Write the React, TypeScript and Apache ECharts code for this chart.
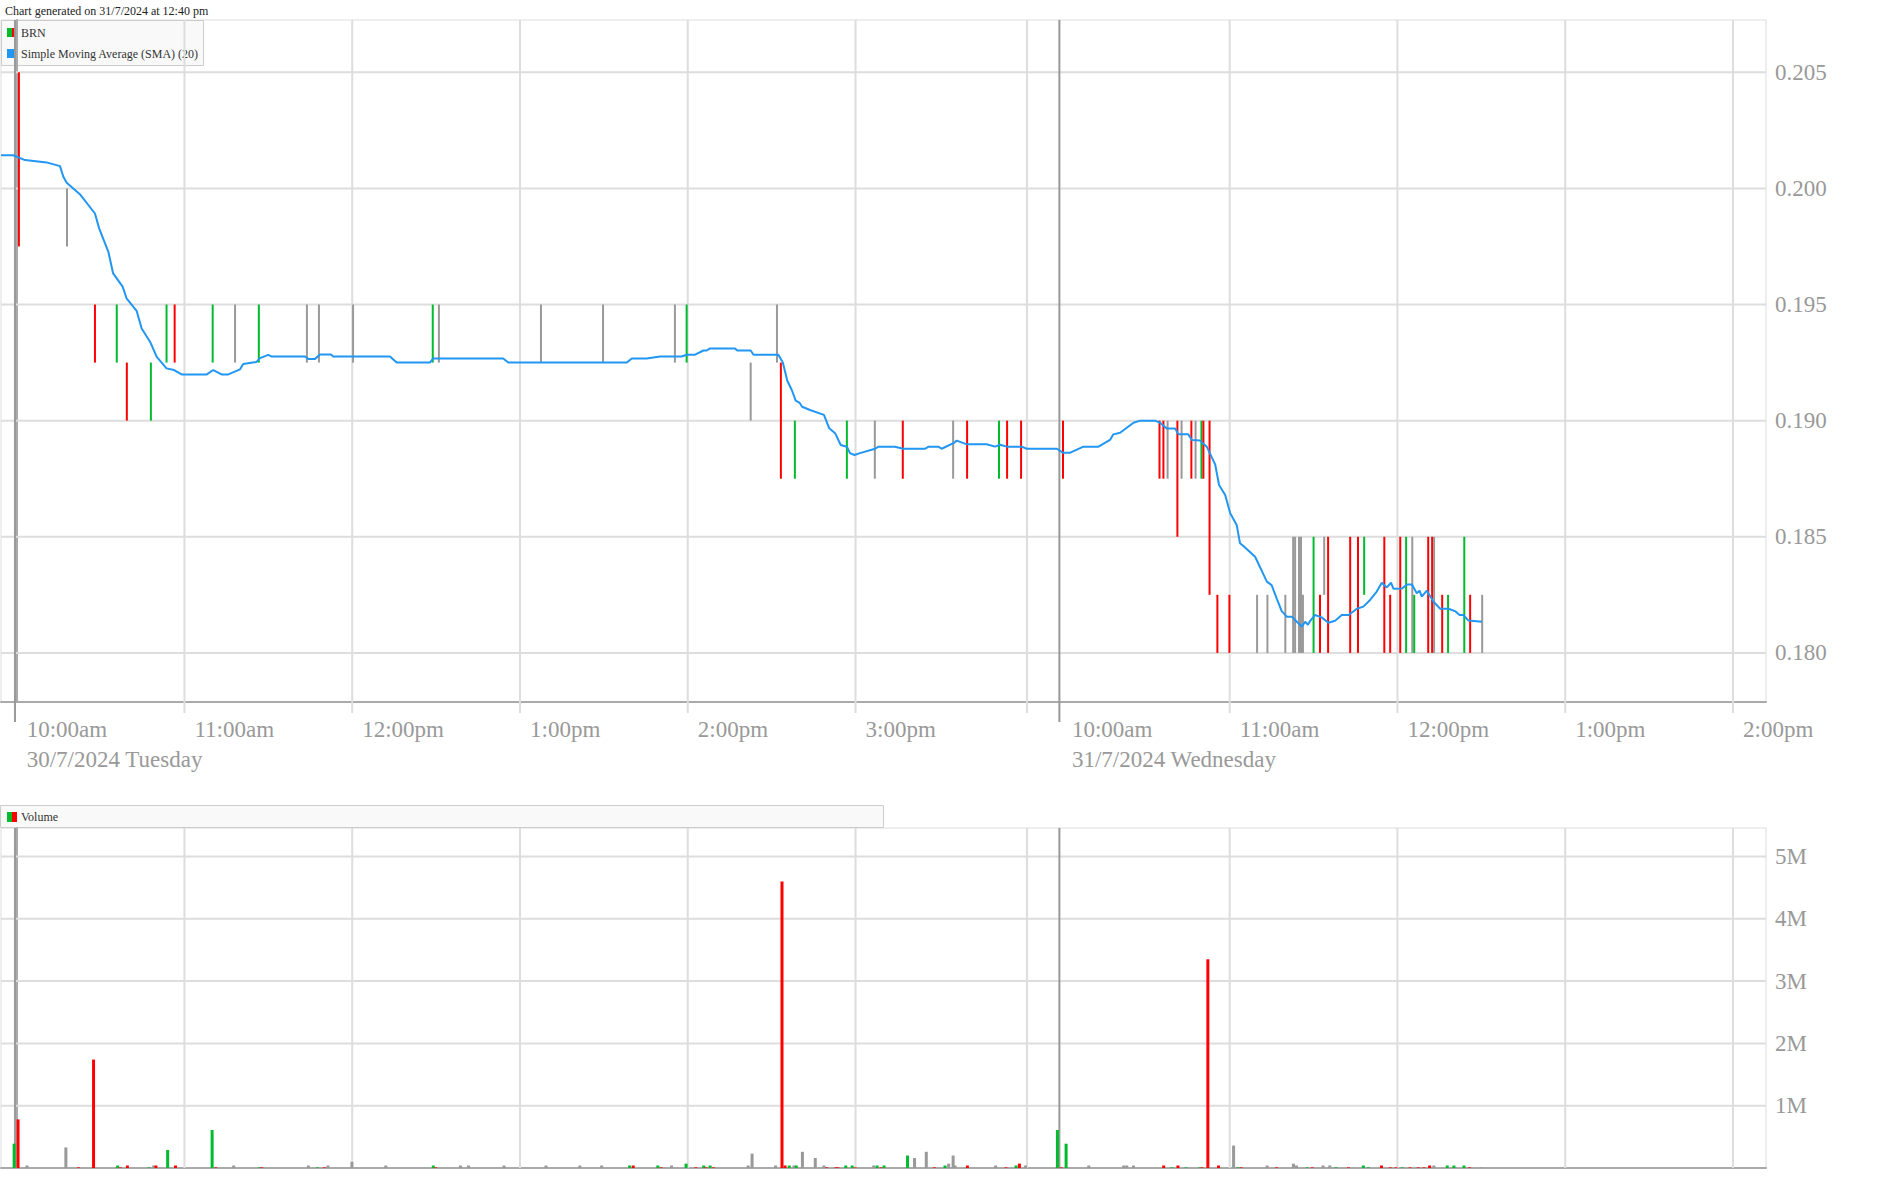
import React, { useEffect, useRef } from "react";
import * as echarts from "echarts";

// ---------- texts ----------
const TITLE = "Chart generated on 31/7/2024 at 12:40 pm";
const PRICE_NAME = "BRN";
const SMA_NAME = "Simple Moving Average (SMA) (20)";
const VOLUME_NAME = "Volume";

// ---------- trading-time axis (minutes after 10:00am Tuesday; Wednesday session starts at WED_START) ----------
const WED_START = 373.8;
const X_MIN = -5.6;
const X_MAX = 625.6;

const tueTickMinutes = [0, 60, 120, 180, 240, 300];
const tueTickLabels = ["10:00am", "11:00am", "12:00pm", "1:00pm", "2:00pm", "3:00pm"];
const tueUnlabeledGrid = [361.3];
const wedTickMinutes = [0, 60, 120, 180, 240];
const wedTickLabels = ["10:00am", "11:00am", "12:00pm", "1:00pm", "2:00pm"];
const dayLabels = ["30/7/2024 Tuesday", "31/7/2024 Wednesday"];
const sessionOpenMinutes = [-0.6, WED_START - 0.9];

const priceTicks = [0.18, 0.185, 0.19, 0.195, 0.2, 0.205];
const PRICE_MIN = 0.177885;
const PRICE_MAX = 0.207252;
const volumeTicks = [1000000, 2000000, 3000000, 4000000, 5000000];
const VOLUME_MAX = 5457000;

// ---------- price bars: [minute of day, high, low, direction (1 up, -1 down, 0 unchanged)] ----------
const tueBars = [
  [0.8, 0.205, 0.1975, -1], [18.0, 0.2, 0.1975, 0], [28.0, 0.195, 0.1925, -1], [35.8, 0.195, 0.1925, 1],
  [39.4, 0.1925, 0.19, -1], [48.0, 0.1925, 0.19, 1], [53.6, 0.195, 0.1925, 1], [56.5, 0.195, 0.1925, -1],
  [70.1, 0.195, 0.1925, 1], [78.1, 0.195, 0.1925, 0], [86.6, 0.195, 0.1925, 1], [103.8, 0.195, 0.1925, 0],
  [108.1, 0.195, 0.1925, 0], [120.3, 0.195, 0.1925, 0], [148.8, 0.195, 0.1925, 1], [151.0, 0.195, 0.1925, 0],
  [187.5, 0.195, 0.1925, 0], [209.7, 0.195, 0.1925, 0], [235.4, 0.195, 0.1925, 0], [239.6, 0.195, 0.1925, 1],
  [262.5, 0.1925, 0.19, 0], [271.9, 0.195, 0.1925, 0], [273.3, 0.1925, 0.1875, -1], [278.3, 0.19, 0.1875, 1],
  [296.9, 0.19, 0.1875, 1], [306.9, 0.19, 0.1875, 0], [316.9, 0.19, 0.1875, -1], [334.9, 0.19, 0.1875, 0],
  [339.9, 0.19, 0.1875, -1], [351.3, 0.19, 0.1875, 1], [354.2, 0.19, 0.1875, -1], [359.2, 0.19, 0.1875, -1],
];
const wedBars = [
  [0.4, 0.19, 0.1875, -1], [34.9, 0.19, 0.1875, -1], [36.3, 0.19, 0.1875, -1], [37.8, 0.19, 0.1875, 0],
  [41.3, 0.19, 0.185, -1], [42.8, 0.19, 0.1875, 0], [46.3, 0.19, 0.1875, -1], [47.8, 0.19, 0.1875, 0],
  [49.9, 0.19, 0.1875, 1], [50.6, 0.19, 0.1875, -1], [52.8, 0.19, 0.1825, -1], [55.6, 0.1825, 0.18, -1],
  [59.9, 0.1825, 0.18, -1], [69.8, 0.1825, 0.18, 0], [73.5, 0.1825, 0.18, 0], [79.9, 0.1825, 0.18, 0],
  [82.7, 0.185, 0.18, 0], [83.4, 0.185, 0.18, 0], [84.8, 0.185, 0.18, 0], [85.5, 0.185, 0.18, 0],
  [86.2, 0.1825, 0.18, 0], [90.0, 0.185, 0.18, 1], [92.3, 0.1825, 0.18, -1], [93.8, 0.185, 0.1825, 0],
  [95.2, 0.185, 0.18, -1], [103.1, 0.185, 0.18, -1], [105.9, 0.185, 0.18, -1], [108.1, 0.185, 0.1825, 1],
  [115.3, 0.185, 0.18, -1], [117.4, 0.1825, 0.18, -1], [121.0, 0.185, 0.18, -1], [123.1, 0.185, 0.18, 1],
  [125.3, 0.185, 0.18, 0], [126.0, 0.1825, 0.18, 1], [131.0, 0.185, 0.18, -1], [132.4, 0.185, 0.18, -1],
  [133.1, 0.185, 0.18, 0], [136.0, 0.1825, 0.18, -1], [138.1, 0.1825, 0.18, 1], [143.9, 0.185, 0.18, 1],
  [146.0, 0.1825, 0.18, -1], [150.3, 0.1825, 0.18, 0],
];

// ---------- SMA(20): [minute of day, value] ----------
const tueSma = [
  [-5.6, 0.20143], [-1.2, 0.20143], [3.0, 0.20122], [10.7, 0.20112], [15.5, 0.20096], [16.7, 0.2005], [17.9, 0.20024],
  [22.6, 0.19975], [28.0, 0.19892], [29.5, 0.19828], [32.8, 0.19727], [34.5, 0.19634], [37.9, 0.19577], [39.3, 0.19527],
  [42.9, 0.19473], [44.7, 0.19397], [47.7, 0.1934], [50.1, 0.19275], [53.6, 0.19225], [56.3, 0.19218], [59.0, 0.19199],
  [68.0, 0.19199], [70.3, 0.19218], [73.3, 0.19199], [75.7, 0.19199], [79.9, 0.19221], [81.0, 0.19244], [85.8, 0.19253],
  [87.0, 0.19269], [90.0, 0.19283], [91.2, 0.19276], [103.1, 0.19276], [104.3, 0.19266], [106.7, 0.19266], [108.5, 0.19285],
  [112.4, 0.19285], [113.2, 0.19276], [133.5, 0.19276], [135.9, 0.1925], [147.8, 0.1925], [149.0, 0.19268], [174.0, 0.19268],
  [175.8, 0.1925], [218.2, 0.1925], [220.0, 0.19268], [225.3, 0.19268], [230.1, 0.19276], [237.8, 0.19276], [239.6, 0.19284],
  [242.6, 0.19284], [245.6, 0.19302], [246.8, 0.19302], [248.0, 0.19311], [256.9, 0.19311], [257.7, 0.19302], [262.5, 0.19302],
  [263.5, 0.19284], [272.4, 0.19284], [274.0, 0.1925], [275.6, 0.19172], [277.2, 0.19132], [278.6, 0.19086], [279.9, 0.19078],
  [280.9, 0.1906], [283.7, 0.19046], [288.7, 0.19025], [290.6, 0.18967], [292.7, 0.18946], [294.7, 0.18895], [296.9, 0.18888],
  [298.0, 0.1886], [299.6, 0.18852], [301.6, 0.1886], [307.0, 0.18879], [308.2, 0.18888], [314.1, 0.18888], [317.1, 0.18879],
  [324.9, 0.18879], [326.1, 0.18888], [329.6, 0.18888], [330.8, 0.18879], [335.0, 0.18903], [336.2, 0.18914], [339.8, 0.18898],
  [346.9, 0.18898], [349.9, 0.18888], [351.7, 0.18896], [354.1, 0.18888], [359.4, 0.18888], [361.2, 0.18879], [372.0, 0.18879],
];
const wedSma = [
  [0.3, 0.18862], [3.0, 0.18862], [7.7, 0.18888], [13.1, 0.18888], [17.2, 0.18917], [18.4, 0.18941], [20.8, 0.18948],
  [22.6, 0.18964], [25.6, 0.18991], [28.0, 0.19], [33.3, 0.19], [35.1, 0.18991], [37.5, 0.18966], [40.5, 0.18966],
  [41.7, 0.18941], [45.2, 0.18941], [46.5, 0.18917], [49.4, 0.18914], [51.8, 0.18888], [54.8, 0.18812], [56.2, 0.18723],
  [58.4, 0.1868], [60.2, 0.18601], [62.5, 0.18551], [63.7, 0.18472], [64.9, 0.1846], [69.1, 0.18414], [73.3, 0.18307],
  [75.0, 0.18292], [76.8, 0.18235], [78.6, 0.1818], [80.4, 0.18156], [82.2, 0.18156], [84.0, 0.18134], [85.8, 0.18113],
  [87.0, 0.18134], [88.0, 0.18121], [88.8, 0.18138], [90.5, 0.18163], [92.9, 0.18153], [95.3, 0.1813], [97.7, 0.18138],
  [100.1, 0.18163], [102.5, 0.18163], [105.5, 0.1819], [107.8, 0.18199], [110.2, 0.18228], [112.6, 0.18264], [114.4, 0.18302],
  [116.2, 0.18282], [117.7, 0.18302], [118.6, 0.18276], [121.6, 0.18277], [123.4, 0.18294], [125.2, 0.18294], [126.9, 0.18257],
  [127.9, 0.18268], [128.7, 0.18242], [130.5, 0.18268], [132.9, 0.1822], [135.3, 0.1819], [138.2, 0.1819], [140.6, 0.1818],
  [142.2, 0.18163], [143.6, 0.18163], [145.4, 0.18139], [150.2, 0.18134],
];

// ---------- volume: [minute of day, shares, direction] ----------
const tueVolume = [
  [-0.9, 390000, 1], [0.5, 780000, -1], [3.7, 40000, 0], [17.6, 330000, 0], [22.1, 10000, -1], [27.5, 1740000, -1],
  [36.1, 40000, 1], [37.1, 10000, -1], [39.6, 40000, -1], [47.4, 10000, 1], [49.0, 40000, 0], [49.8, 40000, -1],
  [54.0, 290000, 1], [56.8, 40000, -1], [69.9, 610000, 1], [71.2, 10000, -1], [77.6, 40000, 0], [86.8, 10000, 1],
  [87.7, 10000, -1], [104.3, 40000, 0], [107.6, 10000, 1], [110.0, 10000, -1], [111.3, 40000, 0], [119.9, 100000, 0],
  [132.0, 40000, 0], [149.0, 40000, 1], [149.9, 10000, -1], [158.7, 40000, 0], [161.6, 40000, 0], [174.3, 40000, 0],
  [189.3, 40000, 0], [201.4, 40000, 0], [209.2, 40000, 0], [219.2, 40000, 1], [220.5, 40000, -1], [229.3, 40000, 1],
  [230.5, 10000, -1], [234.2, 40000, 0], [239.4, 70000, 1], [242.9, 10000, -1], [245.7, 40000, 1], [246.5, 10000, -1],
  [248.0, 40000, 1], [249.2, 10000, -1], [261.6, 40000, 0], [263.0, 230000, 0], [271.4, 40000, 0], [273.7, 4600000, -1],
  [274.8, 40000, -1], [276.3, 40000, 1], [278.0, 40000, 0], [278.8, 40000, 1], [281.0, 260000, 0], [285.6, 160000, 0],
  [288.7, 40000, 0], [289.7, 10000, -1], [293.0, 10000, -1], [293.7, 10000, -1], [296.5, 40000, 1], [298.8, 40000, 1],
  [299.9, 10000, -1], [306.5, 40000, 0], [307.7, 40000, 1], [309.1, 10000, -1], [310.2, 40000, 1], [318.6, 200000, 1],
  [321.1, 160000, 0], [325.3, 260000, 0], [328.2, 10000, -1], [332.0, 40000, 1], [333.3, 70000, 0], [334.9, 200000, 0],
  [335.6, 40000, 0], [340.0, 40000, -1], [350.1, 40000, 0], [353.8, 10000, -1], [357.4, 40000, 1], [358.6, 70000, -1],
  [360.8, 40000, 0],
];
const wedVolume = [
  [-1.6, 610000, 1], [-0.3, 10000, -1], [1.5, 390000, 1], [9.6, 40000, 0], [22.1, 40000, 0], [23.2, 40000, 0],
  [25.6, 40000, 0], [36.4, 40000, -1], [39.3, 10000, 1], [41.5, 40000, -1], [44.4, 10000, 1], [49.3, 10000, 1],
  [50.1, 10000, -1], [52.2, 3350000, -1], [56.0, 40000, -1], [61.4, 360000, 0], [62.9, 10000, 1], [64.1, 10000, -1],
  [73.4, 40000, 0], [76.8, 10000, -1], [82.8, 70000, 0], [83.9, 40000, 0], [87.7, 10000, 1], [89.5, 10000, -1],
  [93.4, 40000, 0], [95.8, 40000, 0], [98.0, 10000, 1], [102.5, 10000, -1], [107.8, 40000, 1], [109.6, 10000, 1],
  [114.3, 40000, -1], [117.4, 10000, -1], [119.5, 10000, -1], [121.7, 10000, 1], [124.5, 10000, -1], [127.4, 10000, -1],
  [129.5, 10000, -1], [131.5, 40000, -1], [133.0, 40000, 0], [137.8, 40000, 1], [140.2, 40000, 1], [143.8, 40000, 1],
  [145.8, 10000, -1], [149.8, 10000, 0],
];

// ---------- styles ----------
const UP = "#00bb2d";
const DOWN = "#ff0000";
const FLAT = "#999999";
const SMA_COLOR = "#2196f3";
const GRID_COLOR = "#dddddd";
const AXIS_COLOR = "#aaaaaa";
const LABEL_COLOR = "#999999";
const FONT = "'Liberation Serif', 'Times New Roman', serif";

const dirColor = (d: number) => (d > 0 ? UP : d < 0 ? DOWN : FLAT);
const wed = (rows: number[][]) => rows.map((r) => [r[0] + WED_START, ...r.slice(1)]);

const allLabelMinutes = [...tueTickMinutes, ...wedTickMinutes.map((m) => m + WED_START)];
const allLabels = [...tueTickLabels, ...wedTickLabels];
const dayLabelMinutes = [tueTickMinutes[0], wedTickMinutes[0] + WED_START];
const gridMinutes = [
  ...tueTickMinutes.slice(1),
  ...tueUnlabeledGrid,
  ...wedTickMinutes.slice(1).map((m) => m + WED_START),
];

const nearestLabel = (values: number[], labels: string[]) => (v: number) => {
  let best = -1;
  let bd = 1e9;
  values.forEach((m, i) => {
    const d = Math.abs(m - v);
    if (d < bd) {
      bd = d;
      best = i;
    }
  });
  return bd < 0.5 ? labels[best] : "";
};

function vLines(data: number[], idx: number, color: string, width: number, ext: number, z: number) {
  return {
    type: "custom",
    xAxisIndex: idx,
    yAxisIndex: idx,
    silent: true,
    z,
    clip: false,
    data: data.map((m) => [m, 0]),
    renderItem: (params: any, api: any) => {
      const cs = params.coordSys;
      const x = api.coord([api.value(0), api.value(1)])[0];
      return {
        type: "line",
        shape: { x1: x, y1: cs.y, x2: x, y2: cs.y + cs.height + ext },
        style: { stroke: color, lineWidth: width },
      };
    },
  };
}

function hLines(data: number[], idx: number, z: number) {
  return {
    type: "custom",
    xAxisIndex: idx,
    yAxisIndex: idx,
    silent: true,
    z,
    clip: false,
    data: data.map((v) => [X_MIN, v]),
    renderItem: (params: any, api: any) => {
      const cs = params.coordSys;
      const y = api.coord([api.value(0), api.value(1)])[1];
      return {
        type: "line",
        shape: { x1: cs.x, y1: y, x2: cs.x + cs.width, y2: y },
        style: { stroke: GRID_COLOR, lineWidth: 2 },
      };
    },
  };
}

const labelStyle = {
  align: "left",
  padding: [0, 0, 0, 10],
  margin: 12,
  lineHeight: 30,
  color: LABEL_COLOR,
  fontSize: 23,
  fontFamily: FONT,
  hideOverlap: false,
  showMinLabel: true,
  showMaxLabel: true,
};

export default function App() {
  const ref = useRef<HTMLDivElement>(null);

  useEffect(() => {
    if (!ref.current) return;
    const chart = echarts.init(ref.current, null, { renderer: "svg" });

    const bars = [...tueBars, ...wed(wedBars)];
    const sma = [...tueSma, ...wed(wedSma)];
    const volume = [...tueVolume, ...wed(wedVolume)];

    const option: any = {
      animation: false,
      backgroundColor: "#ffffff",
      textStyle: { fontFamily: FONT },
      grid: [
        { left: 1, right: 113, top: 20, height: 682, show: true, borderColor: GRID_COLOR, borderWidth: 1 },
        { left: 1, right: 113, top: 828, height: 340, show: true, borderColor: GRID_COLOR, borderWidth: 1 },
      ],
      xAxis: [
        {
          type: "value",
          gridIndex: 0,
          min: X_MIN,
          max: X_MAX,
          splitLine: { show: false },
          axisTick: { show: false },
          axisLine: { show: true, onZero: false, lineStyle: { color: AXIS_COLOR, width: 2 } },
          axisLabel: { ...labelStyle, customValues: allLabelMinutes, formatter: nearestLabel(allLabelMinutes, allLabels) },
        },
        {
          type: "value",
          gridIndex: 1,
          min: X_MIN,
          max: X_MAX,
          splitLine: { show: false },
          axisTick: { show: false },
          axisLabel: { show: false },
          axisLine: { show: true, onZero: false, lineStyle: { color: AXIS_COLOR, width: 2 } },
        },
        {
          type: "value",
          gridIndex: 0,
          position: "bottom",
          offset: 30,
          min: X_MIN,
          max: X_MAX,
          splitLine: { show: false },
          axisTick: { show: false },
          axisLine: { show: false },
          axisLabel: { ...labelStyle, customValues: dayLabelMinutes, formatter: nearestLabel(dayLabelMinutes, dayLabels) },
        },
      ],
      yAxis: [
        {
          type: "value",
          gridIndex: 0,
          position: "right",
          min: PRICE_MIN,
          max: PRICE_MAX,
          splitLine: { show: false },
          axisTick: { show: false },
          axisLine: { show: true, lineStyle: { color: AXIS_COLOR, width: 2 } },
          axisLabel: {
            customValues: priceTicks,
            formatter: (v: number) => v.toFixed(3),
            margin: 9,
            color: LABEL_COLOR,
            fontSize: 23,
            fontFamily: FONT,
            showMinLabel: true,
            showMaxLabel: true,
          },
        },
        {
          type: "value",
          gridIndex: 1,
          position: "right",
          min: 0,
          max: VOLUME_MAX,
          splitLine: { show: false },
          axisTick: { show: false },
          axisLine: { show: true, lineStyle: { color: AXIS_COLOR, width: 2 } },
          axisLabel: {
            customValues: volumeTicks,
            formatter: (v: number) => `${Math.round(v / 1000000)}M`,
            margin: 9,
            color: LABEL_COLOR,
            fontSize: 23,
            fontFamily: FONT,
            showMinLabel: true,
            showMaxLabel: true,
          },
        },
      ],
      series: [
        hLines(priceTicks, 0, 1),
        vLines(gridMinutes, 0, GRID_COLOR, 2, 11, 1),
        vLines(sessionOpenMinutes, 0, FLAT, 2, 20, 1),
        {
          type: "custom",
          name: PRICE_NAME,
          xAxisIndex: 0,
          yAxisIndex: 0,
          z: 3,
          data: bars,
          encode: { x: 0, y: [1, 2] },
          renderItem: (params: any, api: any) => {
            const x = api.value(0);
            const top = api.coord([x, api.value(1)]);
            const bot = api.coord([x, api.value(2)]);
            return {
              type: "rect",
              shape: { x: top[0] - 1, y: top[1], width: 2, height: bot[1] - top[1] },
              style: { fill: dirColor(api.value(3)) },
            };
          },
        },
        {
          type: "line",
          name: SMA_NAME,
          xAxisIndex: 0,
          yAxisIndex: 0,
          z: 4,
          data: sma,
          showSymbol: false,
          symbol: "none",
          lineStyle: { color: SMA_COLOR, width: 2 },
          itemStyle: { color: SMA_COLOR },
        },
        hLines(volumeTicks, 1, 1),
        vLines(gridMinutes, 1, GRID_COLOR, 2, 0, 1),
        vLines(sessionOpenMinutes, 1, FLAT, 2, 0, 1),
        {
          type: "custom",
          name: VOLUME_NAME,
          xAxisIndex: 1,
          yAxisIndex: 1,
          z: 3,
          data: volume,
          encode: { x: 0, y: 1 },
          renderItem: (params: any, api: any) => {
            const x = api.value(0);
            const top = api.coord([x, api.value(1)]);
            const base = api.coord([x, 0]);
            return {
              type: "rect",
              shape: { x: top[0] - 1.5, y: top[1], width: 3, height: base[1] - top[1] },
              style: { fill: dirColor(api.value(2)) },
            };
          },
        },
      ],
      graphic: [
        {
          type: "text",
          x: 5,
          y: 11,
          z: 10,
          style: { text: TITLE, fill: "#222", font: `12px ${FONT}`, verticalAlign: "middle" },
        },
        {
          type: "group",
          z: 10,
          children: [
            { type: "rect", shape: { x: 1.5, y: 20.5, width: 202, height: 45 }, style: { fill: "#f9f9f9", stroke: "#cccccc", lineWidth: 1 } },
            { type: "rect", shape: { x: 7, y: 28, width: 5, height: 9 }, style: { fill: UP } },
            { type: "rect", shape: { x: 12, y: 28, width: 5, height: 9 }, style: { fill: DOWN } },
            { type: "text", x: 21, y: 32.5, style: { text: PRICE_NAME, fill: "#333", font: `12px ${FONT}`, verticalAlign: "middle" } },
            { type: "rect", shape: { x: 7, y: 49, width: 10, height: 9 }, style: { fill: SMA_COLOR } },
            { type: "text", x: 21, y: 53.5, style: { text: SMA_NAME, fill: "#333", font: `12px ${FONT}`, verticalAlign: "middle" } },
          ],
        },
        {
          type: "group",
          z: 10,
          children: [
            { type: "rect", shape: { x: 0.5, y: 805.5, width: 883, height: 22 }, style: { fill: "#f9f9f9", stroke: "#cccccc", lineWidth: 1 } },
            { type: "rect", shape: { x: 7, y: 812, width: 5, height: 10 }, style: { fill: UP } },
            { type: "rect", shape: { x: 12, y: 812, width: 5, height: 10 }, style: { fill: DOWN } },
            { type: "text", x: 21, y: 817, style: { text: VOLUME_NAME, fill: "#333", font: `12px ${FONT}`, verticalAlign: "middle" } },
          ],
        },
      ],
    };

    chart.setOption(option);
    return () => chart.dispose();
  }, []);

  return <div ref={ref} style={{ position: "fixed", left: 0, top: 0, width: 1879, height: 1192 }} />;
}
